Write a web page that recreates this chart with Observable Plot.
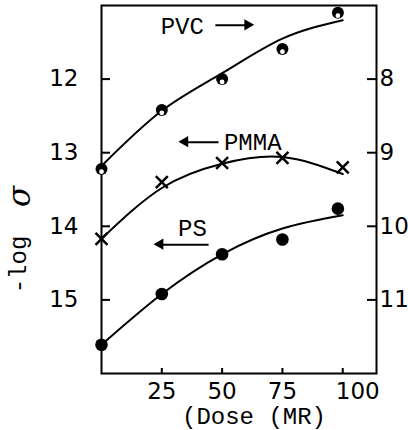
<!DOCTYPE html>
<html><head><meta charset="utf-8">
<script src="https://cdn.jsdelivr.net/npm/d3@7"></script>
<script src="https://cdn.jsdelivr.net/npm/@observablehq/plot@0.6"></script>
<style>body{margin:0;background:#fff} svg{display:block}</style>
</head><body><div id="chart"></div>
<script>
// Data (PVC on right axis, PMMA and PS on left axis)
const pvcDose = [0, 25, 50, 75, 98];
const pvcRight = [9.22, 8.42, 8.00, 7.59, 7.10];
const pmmaDose = [0, 25, 50, 75, 100];
const pmmaLeft = [14.17, 13.40, 13.14, 13.07, 13.20];
const psDose = [0, 25, 50, 75, 98];
const psLeft = [15.61, 14.92, 14.38, 14.18, 13.76];

// Smooth fitted curves
const fitDose = [0, 25, 50, 75, 100];
const pvcFitRight = [9.18, 8.43, 7.92, 7.45, 7.20];
const pmmaFitLeft = [14.17, 13.48, 13.15, 13.06, 13.29];
const psFitLeft = [15.61, 14.92, 14.38, 14.03, 13.85];

const rightOffset = 4; // right-axis value = left-axis value - 4
const leftTicks = [12, 13, 14, 15];
const rightTicks = [8, 9, 10, 11];
const xTicks = [25, 50, 75];
const xLastTick = [100];

// Annotations (left-axis units)
const annLabels = ["PVC", "PMMA", "PS"];
const annDose = [33.5, 62.7, 37.7];
const annValue = [11.27, 12.84, 14.02];
const arrowFrom = [47.2, 48.5, 44.4];
const arrowTo = [60.8, 34.8, 24.5];
const arrowValue = [11.27, 12.857, 14.25];

const pts = (xs, ys, off = 0) => xs.map((x, i) => ({x, y: ys[i] + off}));
const pvc = pts(pvcDose, pvcRight, rightOffset);
const pmma = pts(pmmaDose, pmmaLeft);
const ps = pts(psDose, psLeft);
const pvcFit = pts(fitDose, pvcFitRight, rightOffset);
const pmmaFit = pts(fitDose, pmmaFitLeft);
const psFit = pts(fitDose, psFitLeft);
const ann = annLabels.map((t, i) => ({t, x: annDose[i], y: annValue[i]}));
const arrows = arrowFrom.map((a, i) => ({x1: a, x2: arrowTo[i], y: arrowValue[i], dir: arrowTo[i] > a ? 90 : -90, dx: arrowTo[i] > a ? -6 : 6}));

const mono = "'Liberation Mono', 'DejaVu Sans Mono', monospace";
const sans = "'DejaVu Sans', sans-serif";

const plot = Plot.plot({
  width: 408, height: 430,
  marginLeft: 101, marginRight: 32, marginTop: 5, marginBottom: 57,
  x: {domain: [0, 114], axis: null},
  y: {domain: [11, 16], reverse: true, axis: null},
  style: {background: "white", color: "black"},
  marks: [
    Plot.frame({stroke: "black", strokeWidth: 2}),
    // left axis
    Plot.axisY(leftTicks, {anchor: "left", tickSize: -9, strokeWidth: 2, tickFormat: () => "", label: null}),
    Plot.axisY(leftTicks, {anchor: "left", tickSize: 0, tickPadding: 23, fontSize: 23, fontFamily: sans, tickFormat: d => String(d), label: null}),
    // right axis
    Plot.axisY(rightTicks.map(v => v + rightOffset), {anchor: "right", tickSize: -10, strokeWidth: 2, tickFormat: () => "", label: null}),
    Plot.axisY(rightTicks.map(v => v + rightOffset), {anchor: "right", tickSize: 0, tickPadding: 3, fontSize: 23, fontFamily: sans, tickFormat: d => String(d - rightOffset), label: null}),
    // bottom axis
    Plot.axisX(xTicks.concat(xLastTick), {anchor: "bottom", tickSize: -5, strokeWidth: 2, tickFormat: () => "", label: null}),
    Plot.axisX(xTicks, {anchor: "bottom", tickSize: 0, tickPadding: 9, fontSize: 23, fontFamily: sans, label: null}),
    Plot.axisX(xLastTick, {anchor: "bottom", tickSize: 0, tickPadding: 9, dx: 15, fontSize: 23, fontFamily: sans, label: null}),
    // axis titles
    Plot.text(["(Dose (MR)"], {frameAnchor: "bottom", textAnchor: "middle", lineAnchor: "middle", dx: 15, dy: 43, fontSize: 24, fontFamily: mono, fill: "black"}),
    Plot.text(["-log"], {frameAnchor: "left", textAnchor: "middle", lineAnchor: "middle", rotate: -90, dx: -83, dy: 75, fontSize: 24, fontFamily: mono, fill: "black"}),
    Plot.text(["σ"], {frameAnchor: "left", textAnchor: "middle", lineAnchor: "middle", rotate: -90, dx: -81, dy: 7, fontSize: 31, fontFamily: "'DejaVu Serif', serif", fontStyle: "italic", fill: "black"}),
    // fitted curves
    Plot.line(pvcFit, {x: "x", y: "y", curve: "natural", stroke: "black", strokeWidth: 2}),
    Plot.line(pmmaFit, {x: "x", y: "y", curve: "natural", stroke: "black", strokeWidth: 2}),
    Plot.line(psFit, {x: "x", y: "y", curve: "natural", stroke: "black", strokeWidth: 2}),
    // markers
    Plot.dot(pvc, {x: "x", y: "y", r: 6, fill: "black", stroke: "none"}),
    Plot.dot(pvc, {x: "x", y: "y", r: 2.4, dy: 2.8, fill: "white", stroke: "none"}),
    Plot.dot(pmma, {x: "x", y: "y", symbol: "times", r: 5.5, stroke: "black", strokeWidth: 2.5}),
    Plot.dot(ps, {x: "x", y: "y", r: 6.3, fill: "black", stroke: "none"}),
    // annotations
    Plot.text(ann, {x: "x", y: "y", text: "t", fontSize: 24, fontFamily: mono, fill: "black", dy: 1}),
    Plot.link(arrows, {x1: "x1", x2: "x2", y1: "y", y2: "y", stroke: "black", strokeWidth: 2}),
    Plot.dot(arrows, {x: "x2", y: "y", symbol: "triangle", rotate: "dir", dx: "dx", r: 4.2, fill: "black", stroke: "none"})
  ]
});
document.getElementById("chart").append(plot);
</script>
</body></html>
